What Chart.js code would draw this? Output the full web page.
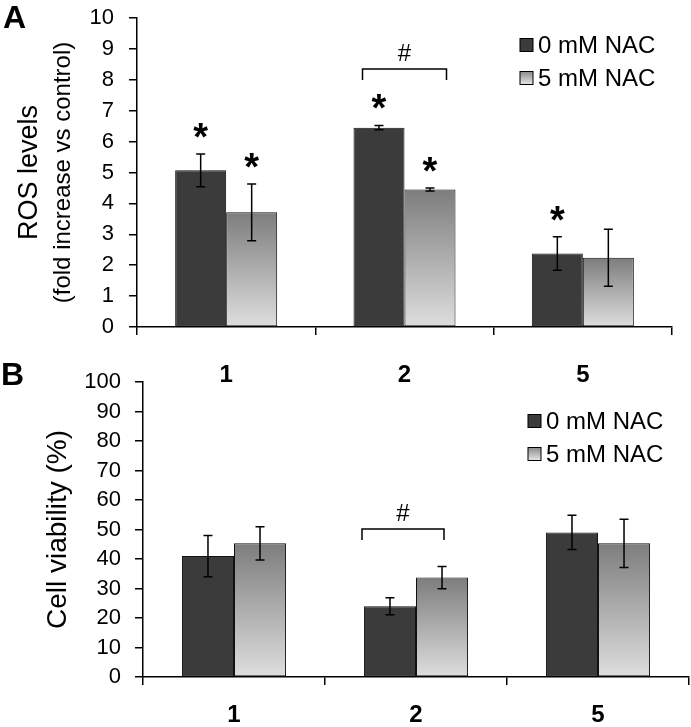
<!DOCTYPE html>
<html>
<head>
<meta charset="utf-8">
<script src="https://cdn.jsdelivr.net/npm/chart.js@4.4.0/dist/chart.umd.min.js"></script>
<style>
  html, body { margin: 0; padding: 0; background: #fff; }
  #wrap { position: relative; width: 691px; height: 727px; overflow: hidden; }
  .panel { position: absolute; left: 0; width: 691px; }
  #panelA { top: 0; height: 390px; }
  #panelB { top: 355px; height: 372px; }
</style>
</head>
<body>
<div id="wrap">
  <div class="panel" id="panelA"><canvas id="rosChart"></canvas></div>
  <div class="panel" id="panelB"><canvas id="viaChart"></canvas></div>
</div>
<script>
// data
const categories = ['1', '2', '5']
const seriesNames = ['0 mM NAC', '5 mM NAC']

const rosNac0 = [5.07, 6.45, 2.38]
const rosNac0Err = [0.53, 0.07, 0.54]
const rosNac5 = [3.71, 4.45, 2.24]
const rosNac5Err = [0.92, 0.05, 0.92]
const rosStars0 = [true, true, true]
const rosStars5 = [true, true, false]

const viaNac0 = [41.0, 24.0, 49.0]
const viaNac0Err = [7.0, 2.9, 5.8]
const viaNac5 = [45.3, 33.7, 45.3]
const viaNac5Err = [5.6, 3.8, 8.2]

const FONT = "'Liberation Sans', Arial, sans-serif"
const DARK = '#3b3b3b'

function lightFill(c) {
  const chart = c.chart
  if (!chart.chartArea || c.type !== 'data') return '#b4b4b4'
  const y = chart.scales.y
  const top = y.getPixelForValue(c.raw)
  const bottom = y.getPixelForValue(0)
  const g = chart.ctx.createLinearGradient(0, top, 0, bottom)
  g.addColorStop(0, '#7d7d7d')
  g.addColorStop(1, '#dedede')
  return g
}

// error bars, stars, bracket, legend, titles
const decorations = {
  id: 'decorations',
  afterDatasetsDraw(chart, args, o) {
    const { ctx, scales: { x, y }, chartArea } = chart
    ctx.save()
    ctx.strokeStyle = '#000'
    ctx.fillStyle = '#000'

    chart.data.datasets.forEach((ds, i) => {
      chart.getDatasetMeta(i).data.forEach((bar, j) => {
        const v = ds.data[j], e = ds.errors[j]
        const yTop = y.getPixelForValue(v + e)
        const yBot = y.getPixelForValue(v - e)
        ctx.lineWidth = 1.5
        ctx.beginPath()
        ctx.moveTo(bar.x, yTop); ctx.lineTo(bar.x, yBot)
        ctx.moveTo(bar.x - 4.5, yTop); ctx.lineTo(bar.x + 4.5, yTop)
        ctx.moveTo(bar.x - 4.5, yBot); ctx.lineTo(bar.x + 4.5, yBot)
        ctx.stroke()
        if (ds.stars && ds.stars[j]) {
          ctx.font = 'bold 38px ' + FONT
          ctx.textAlign = 'center'
          ctx.textBaseline = 'alphabetic'
          const cy = yTop - o.starGap
          ctx.fillText('*', bar.x, cy + 0.575 * 38)
        }
      })
    })

    // significance bracket
    const bx = x.getPixelForValue(o.bracket.index) + o.bracket.dx
    const bw = o.bracket.half
    ctx.lineWidth = 1.5
    ctx.beginPath()
    ctx.moveTo(bx - bw, o.bracket.top + 11)
    ctx.lineTo(bx - bw, o.bracket.top)
    ctx.lineTo(bx + bw, o.bracket.top)
    ctx.lineTo(bx + bw, o.bracket.top + 11)
    ctx.stroke()
    ctx.font = '24px ' + FONT
    ctx.textAlign = 'center'
    ctx.textBaseline = 'middle'
    ctx.fillText('#', bx, o.bracket.top - 15)

    // legend
    ctx.font = '24px ' + FONT
    ctx.textAlign = 'left'
    ctx.textBaseline = 'middle'
    seriesNames.forEach((name, i) => {
      const cy = o.legend.y + i * 33
      const sx = o.legend.x
      if (i === 0) {
        ctx.fillStyle = DARK
      } else {
        const g = ctx.createLinearGradient(0, cy - 6.5, 0, cy + 6.5)
        g.addColorStop(0, '#8a8a8a')
        g.addColorStop(1, '#e6e6e6')
        ctx.fillStyle = g
      }
      ctx.fillRect(sx, cy - 6.5, 13, 13)
      ctx.lineWidth = 1
      ctx.strokeRect(sx, cy - 6.5, 13, 13)
      ctx.fillStyle = '#000'
      ctx.fillText(name, sx + 18, cy + 1)
    })

    // panel letter
    ctx.font = 'bold 32px ' + FONT
    ctx.textBaseline = 'alphabetic'
    ctx.fillText(o.letter.text, o.letter.x, o.letter.y)

    // y-axis titles
    const cy = (chartArea.top + chartArea.bottom) / 2
    o.titles.forEach(t => {
      ctx.save()
      ctx.translate(t.x, cy)
      ctx.rotate(-Math.PI / 2)
      ctx.font = t.size + 'px ' + FONT
      ctx.textAlign = 'center'
      ctx.textBaseline = 'middle'
      ctx.fillText(t.text, 0, 0)
      ctx.restore()
    })
    ctx.restore()
  }
}

function makeChart(id, d0, e0, d1, e1, s0, s1, cfg) {
  return new Chart(document.getElementById(id), {
    type: 'bar',
    data: {
      labels: categories,
      datasets: [
        { label: seriesNames[0], data: d0, errors: e0, stars: s0, backgroundColor: DARK, borderColor: '#111', borderWidth: 1, borderSkipped: false },
        { label: seriesNames[1], data: d1, errors: e1, stars: s1, backgroundColor: lightFill, borderColor: '#111', borderWidth: 1, borderSkipped: false },
      ]
    },
    options: {
      responsive: true,
      maintainAspectRatio: false,
      animation: false,
      layout: { padding: cfg.padding },
      datasets: { bar: { categoryPercentage: 0.572, barPercentage: 1.0 } },
      plugins: {
        legend: { display: false },
        tooltip: { enabled: false },
        decorations: cfg.deco,
      },
      scales: {
        x: {
          grid: { offset: true, drawOnChartArea: false, drawTicks: true, tickLength: 8, color: '#000', lineWidth: 1.5 },
          border: { display: true, color: '#000', width: 1.5 },
          ticks: { color: '#000', padding: cfg.xPad, font: { family: FONT, size: 24, weight: 'bold' } },
          afterFit: s => { s.height = cfg.xHeight },
        },
        y: {
          min: 0, max: cfg.max,
          grid: { drawOnChartArea: false, drawTicks: true, tickLength: 8, color: '#000', lineWidth: 1.5 },
          border: { display: true, color: '#000', width: 1.5 },
          ticks: { stepSize: cfg.step, autoSkip: false, color: '#000', padding: cfg.yPad, font: { family: FONT, size: 22 } },
          afterFit: s => { s.width = cfg.yWidth; s.paddingTop = 4; s.paddingBottom = 4 },
        },
      },
    },
    plugins: [decorations],
  })
}

makeChart('rosChart', rosNac0, rosNac0Err, rosNac5, rosNac5Err, rosStars0, rosStars5, {
  padding: { top: 18, right: 19, left: 0, bottom: 0 },
  max: 10, step: 1, xPad: 26, xHeight: 63, yPad: 15, yWidth: 137,
  deco: {
    starGap: 26,
    bracket: { index: 1, dx: 0, half: 42, top: 69 },
    legend: { x: 520, y: 45 },
    letter: { text: 'A', x: 3, y: 28 },
    titles: [
      { text: 'ROS levels', x: 30, size: 27 },
      { text: '(fold increase vs control)', x: 63, size: 24 },
    ],
  },
})

makeChart('viaChart', viaNac0, viaNac0Err, viaNac5, viaNac5Err, null, null, {
  padding: { top: 27, right: 2, left: 0, bottom: 0 },
  max: 100, step: 10, xPad: 16, xHeight: 50, yPad: 14, yWidth: 143,
  deco: {
    starGap: 26,
    bracket: { index: 1, dx: -13, half: 41, top: 174 },
    legend: { x: 528, y: 66 },
    letter: { text: 'B', x: 1, y: 30 },
    titles: [
      { text: 'Cell viability (%)', x: 58, size: 28 },
    ],
  },
})
</script>
</body>
</html>
